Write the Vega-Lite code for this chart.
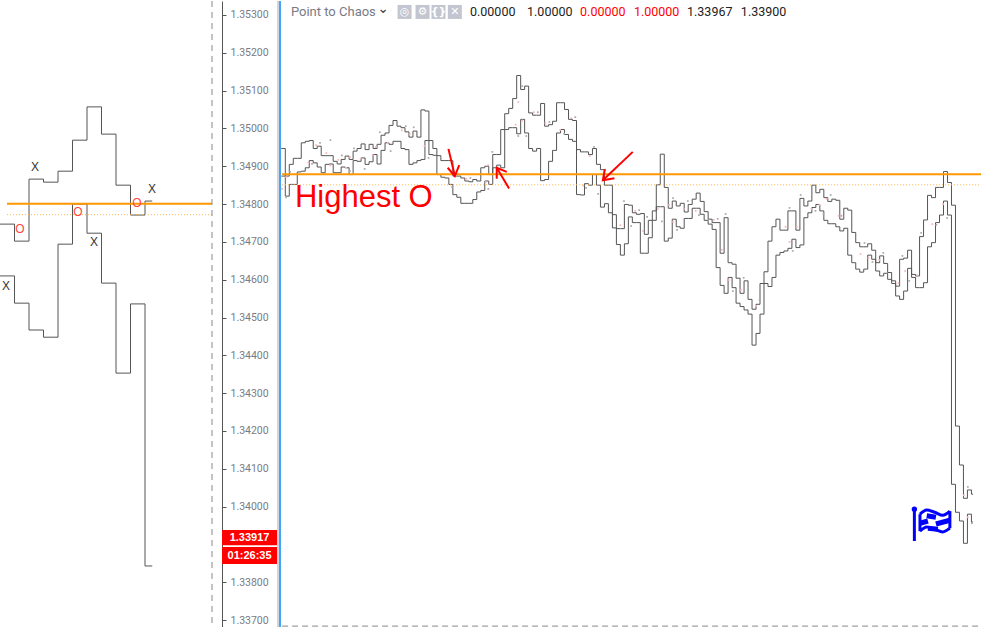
{"$schema":"https://vega.github.io/schema/vega-lite/v6.json","padding":0,"bounds":"flush","spacing":58,"background":"white","config":{"view":{"stroke":null},"axis":{"grid":false,"labelOverlap":false},"concat":{"spacing":58}},
"datasets":{
"left":[{"k":0,"upper":1.34747,"lower":1.3461},{"k":1,"upper":1.34702,"lower":1.34538},{"k":2,"upper":1.34866,"lower":1.34467},{"k":3,"upper":1.34858,"lower":1.34448},{"k":4,"upper":1.34887,"lower":1.34694},{"k":5,"upper":1.34969,"lower":1.348},{"k":6,"upper":1.35057,"lower":1.34723},{"k":7,"upper":1.34985,"lower":1.34591},{"k":8,"upper":1.3485,"lower":1.34353},{"k":9,"upper":1.34771,"lower":1.34536},{"k":10,"upper":1.34808,"lower":1.33843},{"k":10.5,"upper":1.34808,"lower":1.33843}],
"leftText":[{"k":0.41,"price":1.34583,"label":"X","kind":"x"},{"k":2.41,"price":1.34898,"label":"X","kind":"x"},{"k":6.48,"price":1.347,"label":"X","kind":"x"},{"k":10.48,"price":1.3484,"label":"X","kind":"x"},{"k":1.38,"price":1.34734,"label":"O","kind":"o"},{"k":5.38,"price":1.34779,"label":"O","kind":"o"},{"k":9.45,"price":1.34803,"label":"O","kind":"o"}],
"main":[
{"bar":0,"upper":1.34947,"lower":1.34874},{"bar":1,"upper":1.34874,"lower":1.34821},{"bar":2,"upper":1.34905,"lower":1.34852},{"bar":3,"upper":1.34921,"lower":1.34852},{"bar":4,"upper":1.34921,"lower":1.34885},{"bar":5,"upper":1.34962,"lower":1.34887},{"bar":6,"upper":1.34966,"lower":1.34896},{"bar":7,"upper":1.34968,"lower":1.34915},{"bar":8,"upper":1.34947,"lower":1.34909},{"bar":9,"upper":1.34953,"lower":1.34898},
{"bar":10,"upper":1.34928,"lower":1.34883},{"bar":11,"upper":1.34928,"lower":1.34905},{"bar":12,"upper":1.34928,"lower":1.34906},{"bar":13,"upper":1.34913,"lower":1.34883},{"bar":14,"upper":1.34906,"lower":1.34883},{"bar":15,"upper":1.34918,"lower":1.34898},{"bar":16,"upper":1.34927,"lower":1.34896},{"bar":17,"upper":1.34918,"lower":1.34878},{"bar":18,"upper":1.3494,"lower":1.34915},{"bar":19,"upper":1.34947,"lower":1.34913},
{"bar":20,"upper":1.34959,"lower":1.34922},{"bar":21,"upper":1.34944,"lower":1.34905},{"bar":22,"upper":1.34958,"lower":1.34912},{"bar":23,"upper":1.34947,"lower":1.34931},{"bar":24,"upper":1.34958,"lower":1.34906},{"bar":25,"upper":1.34982,"lower":1.34942},{"bar":26,"upper":1.34988,"lower":1.34962},{"bar":27,"upper":1.35008,"lower":1.34958},{"bar":28,"upper":1.35021,"lower":1.34966},{"bar":29,"upper":1.35006,"lower":1.34966},
{"bar":30,"upper":1.35002,"lower":1.34947},{"bar":31,"upper":1.34991,"lower":1.34944},{"bar":32,"upper":1.34977,"lower":1.34905},{"bar":33,"upper":1.34993,"lower":1.34909},{"bar":34,"upper":1.34977,"lower":1.34915},{"bar":35,"upper":1.35049,"lower":1.34918},{"bar":36,"upper":1.35046,"lower":1.34968},{"bar":37,"upper":1.34968,"lower":1.34931},{"bar":38,"upper":1.34947,"lower":1.34929},{"bar":39,"upper":1.34928,"lower":1.34878},
{"bar":40,"upper":1.34915,"lower":1.34871},{"bar":41,"upper":1.34915,"lower":1.34869},{"bar":42,"upper":1.34915,"lower":1.34852},{"bar":43,"upper":1.34874,"lower":1.34825},{"bar":44,"upper":1.34874,"lower":1.34818},{"bar":45,"upper":1.34869,"lower":1.34802},{"bar":46,"upper":1.34861,"lower":1.34802},{"bar":47,"upper":1.34859,"lower":1.34802},{"bar":48,"upper":1.34865,"lower":1.34812},{"bar":49,"upper":1.34861,"lower":1.34832},
{"bar":50,"upper":1.34896,"lower":1.34836},{"bar":51,"upper":1.349,"lower":1.34861},{"bar":52,"upper":1.34878,"lower":1.34852},{"bar":53,"upper":1.34931,"lower":1.34896},{"bar":54,"upper":1.34931,"lower":1.34903},{"bar":55,"upper":1.34997,"lower":1.34896},{"bar":56,"upper":1.35039,"lower":1.34997},{"bar":57,"upper":1.35053,"lower":1.35002},{"bar":58,"upper":1.35079,"lower":1.35002},{"bar":59,"upper":1.3514,"lower":1.34986},
{"bar":60,"upper":1.35103,"lower":1.35024},{"bar":61,"upper":1.35112,"lower":1.34988},{"bar":62,"upper":1.35041,"lower":1.34947},{"bar":63,"upper":1.35035,"lower":1.3494},{"bar":64,"upper":1.35035,"lower":1.34947},{"bar":65,"upper":1.35066,"lower":1.34862},{"bar":66,"upper":1.35006,"lower":1.34865},{"bar":67,"upper":1.3501,"lower":1.34913},{"bar":68,"upper":1.35019,"lower":1.34942},{"bar":69,"upper":1.35068,"lower":1.34988},
{"bar":70,"upper":1.35068,"lower":1.34997},{"bar":71,"upper":1.3505,"lower":1.34984},{"bar":72,"upper":1.35024,"lower":1.34971},{"bar":73,"upper":1.35021,"lower":1.34966},{"bar":74,"upper":1.34944,"lower":1.34825},{"bar":75,"upper":1.34938,"lower":1.34824},{"bar":76,"upper":1.34938,"lower":1.34854},{"bar":77,"upper":1.34931,"lower":1.3485},{"bar":78,"upper":1.34947,"lower":1.34878},{"bar":79,"upper":1.34905,"lower":1.3485},
{"bar":80,"upper":1.34891,"lower":1.34792},{"bar":81,"upper":1.3485,"lower":1.34801},{"bar":82,"upper":1.3485,"lower":1.34777},{"bar":83,"upper":1.34772,"lower":1.34737},{"bar":84,"upper":1.34735,"lower":1.34693},{"bar":85,"upper":1.34735,"lower":1.34665},{"bar":86,"upper":1.34799,"lower":1.34695},
{"bar":87,"upper":1.34797,"lower":1.34766},{"bar":88,"upper":1.34777,"lower":1.34751},{"bar":89,"upper":1.34773,"lower":1.34751},{"bar":90,"upper":1.34775,"lower":1.3467},{"bar":91,"upper":1.3472,"lower":1.3467},{"bar":92,"upper":1.34757,"lower":1.34711},{"bar":93,"upper":1.34782,"lower":1.34757},{"bar":94,"upper":1.34851,"lower":1.34793},{"bar":95,"upper":1.34932,"lower":1.34793},{"bar":96,"upper":1.34844,"lower":1.34702},
{"bar":97,"upper":1.34789,"lower":1.3471},{"bar":98,"upper":1.34808,"lower":1.3476},{"bar":99,"upper":1.34795,"lower":1.3474},{"bar":100,"upper":1.34802,"lower":1.34736},{"bar":101,"upper":1.34779,"lower":1.34762},{"bar":102,"upper":1.34799,"lower":1.34762},{"bar":103,"upper":1.34813,"lower":1.34789},{"bar":104,"upper":1.34829,"lower":1.34789},{"bar":105,"upper":1.34807,"lower":1.34773},{"bar":106,"upper":1.3478,"lower":1.34757},
{"bar":107,"upper":1.3476,"lower":1.34747},{"bar":108,"upper":1.34751,"lower":1.34733},{"bar":109,"upper":1.34751,"lower":1.34632},{"bar":110,"upper":1.3467,"lower":1.34585},{"bar":111,"upper":1.34764,"lower":1.34564},{"bar":112,"upper":1.34645,"lower":1.34606},{"bar":113,"upper":1.34641,"lower":1.34579},{"bar":114,"upper":1.34604,"lower":1.34538},{"bar":115,"upper":1.34564,"lower":1.34529},{"bar":116,"upper":1.34597,"lower":1.3452},
{"bar":117,"upper":1.34548,"lower":1.34509},{"bar":118,"upper":1.34522,"lower":1.34427},{"bar":119,"upper":1.34535,"lower":1.34458},{"bar":120,"upper":1.3459,"lower":1.34509},{"bar":121,"upper":1.34621,"lower":1.3459},{"bar":122,"upper":1.34702,"lower":1.34582},{"bar":123,"upper":1.3474,"lower":1.34606},{"bar":124,"upper":1.3476,"lower":1.34665},{"bar":125,"upper":1.34731,"lower":1.34672},{"bar":126,"upper":1.34731,"lower":1.34676},
{"bar":127,"upper":1.34782,"lower":1.34683},{"bar":128,"upper":1.34782,"lower":1.34707},{"bar":129,"upper":1.34731,"lower":1.34685},{"bar":130,"upper":1.34815,"lower":1.34692},{"bar":131,"upper":1.34795,"lower":1.34764},{"bar":132,"upper":1.34808,"lower":1.34777},{"bar":133,"upper":1.3485,"lower":1.34791},{"bar":134,"upper":1.3483,"lower":1.34799},{"bar":135,"upper":1.34839,"lower":1.34782},{"bar":136,"upper":1.34817,"lower":1.34757},
{"bar":137,"upper":1.34807,"lower":1.34748},{"bar":138,"upper":1.34813,"lower":1.34748},{"bar":139,"upper":1.3481,"lower":1.3474},{"bar":140,"upper":1.3476,"lower":1.34729},{"bar":141,"upper":1.34789,"lower":1.34736},{"bar":142,"upper":1.34784,"lower":1.34665},{"bar":143,"upper":1.34725,"lower":1.34645},{"bar":144,"upper":1.34698,"lower":1.34628},{"bar":145,"upper":1.34687,"lower":1.3462},{"bar":146,"upper":1.34687,"lower":1.34628},
{"bar":147,"upper":1.34695,"lower":1.34665},{"bar":148,"upper":1.34678,"lower":1.34654},{"bar":149,"upper":1.34645,"lower":1.34623},{"bar":150,"upper":1.34663,"lower":1.3461},{"bar":151,"upper":1.34643,"lower":1.34617},{"bar":152,"upper":1.34619,"lower":1.34601},{"bar":153,"upper":1.34597,"lower":1.3459},{"bar":154,"upper":1.34583,"lower":1.34557},{"bar":155,"upper":1.34654,"lower":1.34548},{"bar":156,"upper":1.34657,"lower":1.3457},
{"bar":157,"upper":1.34678,"lower":1.3463},{"bar":158,"upper":1.34614,"lower":1.34606},{"bar":159,"upper":1.3461,"lower":1.34579},{"bar":160,"upper":1.34714,"lower":1.34579},{"bar":161,"upper":1.34758,"lower":1.34592},{"bar":162,"upper":1.34823,"lower":1.34687},{"bar":163,"upper":1.34817,"lower":1.34698},{"bar":164,"upper":1.34844,"lower":1.34751},{"bar":165,"upper":1.34844,"lower":1.34771},{"bar":166,"upper":1.34886,"lower":1.34808},
{"bar":167,"upper":1.34857,"lower":1.34771},{"bar":168,"upper":1.34797,"lower":1.34059},{"bar":169,"upper":1.34213,"lower":1.33985},{"bar":170,"upper":1.3411,"lower":1.33962},{"bar":171,"upper":1.34022,"lower":1.33903},{"bar":172,"upper":1.34044,"lower":1.3398},{"bar":173,"upper":1.34033,"lower":1.33959},{"bar":173.4,"upper":1.34033,"lower":1.33959}],
"dots":[
{"bar":1.2,"price":1.34818,"kind":"gray"},{"bar":2.2,"price":1.34885,"kind":"gray"},{"bar":7.7,"price":1.34906,"kind":"gray"},{"bar":9.7,"price":1.34962,"kind":"gray"},{"bar":12.3,"price":1.34969,"kind":"gray"},{"bar":15.2,"price":1.34929,"kind":"gray"},{"bar":17.2,"price":1.34887,"kind":"gray"},{"bar":18.2,"price":1.34947,"kind":"gray"},{"bar":20.9,"price":1.34893,"kind":"gray"},{"bar":24.7,"price":1.3499,"kind":"gray"},{"bar":27.4,"price":1.3494,"kind":"gray"},{"bar":31.2,"price":1.35006,"kind":"gray"},{"bar":33.2,"price":1.35003,"kind":"gray"},{"bar":36.9,"price":1.34922,"kind":"gray"},{"bar":42.8,"price":1.34845,"kind":"gray"},{"bar":47.4,"price":1.34869,"kind":"gray"},{"bar":51.9,"price":1.3484,"kind":"gray"},{"bar":52.9,"price":1.34938,"kind":"gray"},{"bar":60.4,"price":1.35112,"kind":"gray"},{"bar":59.4,"price":1.3498,"kind":"gray"},{"bar":61.4,"price":1.3498,"kind":"gray"},{"bar":64.3,"price":1.35043,"kind":"gray"},{"bar":67.2,"price":1.35017,"kind":"gray"},{"bar":70.9,"price":1.34986,"kind":"gray"},{"bar":73.7,"price":1.3503,"kind":"gray"},{"bar":76.4,"price":1.34843,"kind":"gray"},{"bar":78.4,"price":1.34951,"kind":"gray"},{"bar":79.4,"price":1.34827,"kind":"gray"},{"bar":81.2,"price":1.34891,"kind":"gray"},{"bar":85.9,"price":1.34808,"kind":"gray"},
{"bar":87.7,"price":1.34742,"kind":"gray"},{"bar":89.7,"price":1.34784,"kind":"gray"},{"bar":91.7,"price":1.34766,"kind":"gray"},{"bar":95.4,"price":1.34754,"kind":"gray"},{"bar":98.2,"price":1.34816,"kind":"gray"},{"bar":99.2,"price":1.34732,"kind":"gray"},{"bar":101.9,"price":1.34808,"kind":"gray"},{"bar":104.7,"price":1.34771,"kind":"gray"},{"bar":109.4,"price":1.34761,"kind":"gray"},{"bar":111.4,"price":1.34774,"kind":"gray"},{"bar":113.2,"price":1.3457,"kind":"gray"},{"bar":115.9,"price":1.34605,"kind":"gray"},{"bar":119.9,"price":1.34546,"kind":"gray"},{"bar":127.4,"price":1.3479,"kind":"gray"},{"bar":128.2,"price":1.34676,"kind":"gray"},{"bar":130.2,"price":1.34824,"kind":"gray"},{"bar":133.9,"price":1.34782,"kind":"gray"},{"bar":135.9,"price":1.34774,"kind":"gray"},{"bar":137.7,"price":1.34824,"kind":"gray"},{"bar":140.4,"price":1.34769,"kind":"gray"},{"bar":146.2,"price":1.34697,"kind":"gray"},{"bar":148.2,"price":1.34647,"kind":"gray"},{"bar":150.9,"price":1.34671,"kind":"gray"},{"bar":155.7,"price":1.34663,"kind":"gray"},{"bar":157.4,"price":1.34597,"kind":"gray"},{"bar":160.4,"price":1.34724,"kind":"gray"},{"bar":164.2,"price":1.34745,"kind":"gray"},{"bar":166.9,"price":1.34763,"kind":"gray"},{"bar":172.1,"price":1.34052,"kind":"gray"},{"bar":173.1,"price":1.33956,"kind":"gray"},
{"bar":0.2,"price":1.3484,"kind":"pink"},{"bar":1.2,"price":1.34871,"kind":"pink"},{"bar":6.8,"price":1.34909,"kind":"pink"},{"bar":8.7,"price":1.34956,"kind":"pink"},{"bar":11.3,"price":1.34935,"kind":"pink"},{"bar":12.3,"price":1.34902,"kind":"pink"},{"bar":14.3,"price":1.34917,"kind":"pink"},{"bar":16.2,"price":1.34896,"kind":"pink"},{"bar":17.2,"price":1.34924,"kind":"pink"},{"bar":19.9,"price":1.3492,"kind":"pink"},{"bar":22.9,"price":1.3493,"kind":"pink"},{"bar":23.7,"price":1.34951,"kind":"pink"},{"bar":26.7,"price":1.34962,"kind":"pink"},{"bar":30.2,"price":1.34995,"kind":"pink"},{"bar":32.2,"price":1.34985,"kind":"pink"},{"bar":35.9,"price":1.34954,"kind":"pink"},{"bar":46.4,"price":1.34867,"kind":"pink"},{"bar":51.2,"price":1.34858,"kind":"pink"},{"bar":51.9,"price":1.34903,"kind":"pink"},{"bar":59.4,"price":1.3507,"kind":"pink"},{"bar":58.7,"price":1.3501,"kind":"pink"},{"bar":60.4,"price":1.35021,"kind":"pink"},{"bar":63.3,"price":1.35043,"kind":"pink"},{"bar":66.2,"price":1.35014,"kind":"pink"},{"bar":69.9,"price":1.34996,"kind":"pink"},{"bar":72.7,"price":1.35027,"kind":"pink"},{"bar":75.7,"price":1.34849,"kind":"pink"},{"bar":77.3,"price":1.34927,"kind":"pink"},{"bar":85,"price":1.34744,"kind":"pink"},
{"bar":88.7,"price":1.34782,"kind":"pink"},{"bar":90.7,"price":1.34729,"kind":"pink"},{"bar":94.4,"price":1.34787,"kind":"pink"},{"bar":97.2,"price":1.34798,"kind":"pink"},{"bar":98.2,"price":1.34753,"kind":"pink"},{"bar":100.9,"price":1.34787,"kind":"pink"},{"bar":103.9,"price":1.34782,"kind":"pink"},{"bar":108.4,"price":1.34758,"kind":"pink"},{"bar":110.4,"price":1.34679,"kind":"pink"},{"bar":112.2,"price":1.34599,"kind":"pink"},{"bar":115.2,"price":1.34573,"kind":"pink"},{"bar":119,"price":1.34531,"kind":"pink"},{"bar":126.4,"price":1.3474,"kind":"pink"},{"bar":127.4,"price":1.347,"kind":"pink"},{"bar":129.2,"price":1.3474,"kind":"pink"},{"bar":132.9,"price":1.34787,"kind":"pink"},{"bar":134.9,"price":1.34798,"kind":"pink"},{"bar":136.7,"price":1.34814,"kind":"pink"},{"bar":139.7,"price":1.34769,"kind":"pink"},{"bar":145.2,"price":1.34668,"kind":"pink"},{"bar":147.2,"price":1.34658,"kind":"pink"},{"bar":149.9,"price":1.34652,"kind":"pink"},{"bar":154.7,"price":1.34591,"kind":"pink"},{"bar":156.4,"price":1.34623,"kind":"pink"},{"bar":159.4,"price":1.34612,"kind":"pink"},{"bar":163.2,"price":1.34747,"kind":"pink"},{"bar":165.9,"price":1.348,"kind":"pink"},{"bar":171.1,"price":1.3403,"kind":"pink"},{"bar":172.1,"price":1.33972,"kind":"pink"}],
"arrows":[
{"part":"a1s","seq":0,"bar":41.9,"price":1.34946},{"part":"a1s","seq":1,"bar":43.5,"price":1.34874},{"part":"a1h","seq":0,"bar":41.7,"price":1.34896},{"part":"a1h","seq":1,"bar":43.5,"price":1.34874},{"part":"a1h","seq":2,"bar":44.6,"price":1.34903},
{"part":"a2s","seq":0,"bar":57.1,"price":1.34841},{"part":"a2s","seq":1,"bar":54,"price":1.34896},{"part":"a2h","seq":0,"bar":54,"price":1.34867},{"part":"a2h","seq":1,"bar":54,"price":1.34896},{"part":"a2h","seq":2,"bar":56.5,"price":1.34885},
{"part":"a3s","seq":0,"bar":88.1,"price":1.34938},{"part":"a3s","seq":1,"bar":80.6,"price":1.34863},{"part":"a3h","seq":0,"bar":81.1,"price":1.34892},{"part":"a3h","seq":1,"bar":80.6,"price":1.34863},{"part":"a3h","seq":2,"bar":83.5,"price":1.34868}],
"flagThin":[
{"part":"pole","seq":0,"bar":158.7,"price":1.33996},{"part":"pole","seq":1,"bar":158.7,"price":1.33909},
{"part":"top","seq":0,"bar":160.1,"price":1.3398},{"part":"top","seq":1,"bar":161.8,"price":1.33991},{"part":"top","seq":2,"bar":163.8,"price":1.33985},{"part":"top","seq":3,"bar":165.8,"price":1.33977},{"part":"top","seq":4,"bar":167.6,"price":1.33988},
{"part":"bottom","seq":0,"bar":160.1,"price":1.33935},{"part":"bottom","seq":1,"bar":161.8,"price":1.33946},{"part":"bottom","seq":2,"bar":163.8,"price":1.3394},{"part":"bottom","seq":3,"bar":165.8,"price":1.33933},{"part":"bottom","seq":4,"bar":167.6,"price":1.33943},
{"part":"left","seq":0,"bar":160.1,"price":1.3398},{"part":"left","seq":1,"bar":160.1,"price":1.33935},
{"part":"right","seq":0,"bar":167.6,"price":1.33988},{"part":"right","seq":1,"bar":167.6,"price":1.33943}],
"flagThick":[
{"part":"r1","seq":0,"bar":161.8,"price":1.33976},{"part":"r1","seq":1,"bar":164.1,"price":1.33972},
{"part":"r2a","seq":0,"bar":160.1,"price":1.33956},{"part":"r2a","seq":1,"bar":162.1,"price":1.33962},
{"part":"r2b","seq":0,"bar":164.1,"price":1.33954},{"part":"r2b","seq":1,"bar":167.6,"price":1.33964},
{"part":"r3","seq":0,"bar":162.1,"price":1.33943},{"part":"r3","seq":1,"bar":164.6,"price":1.3394}],
"headerText":[{"bar":2.4,"price":1.35308,"label":"Point to Chaos","tone":"gray"},{"bar":47.3,"price":1.35308,"label":"0.00000","tone":"black"},{"bar":61.6,"price":1.35308,"label":"1.00000","tone":"black"},{"bar":74.9,"price":1.35308,"label":"0.00000","tone":"red"},{"bar":88.4,"price":1.35308,"label":"1.00000","tone":"red"},{"bar":101.7,"price":1.35308,"label":"1.33967","tone":"black"},{"bar":115.2,"price":1.35308,"label":"1.33900","tone":"black"}],
"buttons":[{"bar":30.9,"price":1.35308,"glyph":"◎"},{"bar":35.4,"price":1.35308,"glyph":"⚙"},{"bar":39.4,"price":1.35308,"glyph":"{}"},{"bar":43.5,"price":1.35308,"glyph":"✕"}],
"priceBoxes":[{"bar":-14.86,"bar2":-1.08,"price":1.33938,"price2":1.33898,"mid":-7.97,"midPrice":1.33918,"label":"1.33917"},{"bar":-14.86,"bar2":-1.08,"price":1.33893,"price2":1.33848,"mid":-7.97,"midPrice":1.3387,"label":"01:26:35"}]
},
"hconcat":[
{"width":222,"height":627,
"encoding":{"x":{"field":"k","type":"quantitative","scale":{"domain":[0,15.31],"nice":false,"zero":false},"axis":null}},
"layer":[
{"data":{"name":"left"},"mark":{"type":"line","interpolate":"step-after","stroke":"#555555","strokeWidth":1,"clip":true},"encoding":{"y":{"field":"upper","type":"quantitative","scale":{"domain":[1.33679,1.35337],"nice":false,"zero":false},"axis":{"orient":"right","title":null,"values":[1.337,1.338,1.34,1.341,1.342,1.343,1.344,1.345,1.346,1.347,1.348,1.349,1.35,1.351,1.352,1.353],"format":".5f","domainColor":"#555555","tickColor":"#555555","tickSize":4,"labelPadding":4,"labelColor":"#787b86","labelFont":"Roboto","labelFontSize":10.5,"labelOverlap":false,"labelBound":false}}}},
{"data":{"name":"left"},"mark":{"type":"line","interpolate":"step-after","stroke":"#555555","strokeWidth":1,"clip":true},"encoding":{"y":{"field":"lower","type":"quantitative"}}},
{"data":{"values":[{"k":0.48,"k2":14.62,"price":1.34801}]},"mark":{"type":"rule","stroke":"#ff9800","strokeWidth":2},"encoding":{"x2":{"field":"k2"},"y":{"field":"price","type":"quantitative"}}},
{"data":{"values":[{"k":0.48,"k2":14.62,"price":1.34772}]},"mark":{"type":"rule","stroke":"#ffb74d","strokeWidth":1,"strokeDash":[1,2]},"encoding":{"x2":{"field":"k2"},"y":{"field":"price","type":"quantitative"}}},
{"data":{"values":[{"k":14.62}]},"mark":{"type":"rule","stroke":"#888888","strokeWidth":1,"strokeDash":[6,5]}},
{"data":{"name":"leftText"},"transform":[{"filter":"datum.kind==='x'"}],"mark":{"type":"text","font":"Liberation Sans","fontSize":12,"fill":"#333333"},"encoding":{"y":{"field":"price","type":"quantitative"},"text":{"field":"label"}}},
{"data":{"name":"leftText"},"transform":[{"filter":"datum.kind==='o'"}],"mark":{"type":"text","font":"Liberation Sans","fontSize":12,"fill":"#ff4444"},"encoding":{"y":{"field":"price","type":"quantitative"},"text":{"field":"label"}}}
]},
{"width":701,"height":627,
"encoding":{"x":{"field":"bar","type":"quantitative","scale":{"domain":[-0.33,175.4],"nice":false,"zero":false},"axis":null}},
"layer":[
{"data":{"name":"main"},"mark":{"type":"line","interpolate":"step-after","stroke":"#555555","strokeWidth":1},"encoding":{"y":{"field":"upper","type":"quantitative","scale":{"domain":[1.33679,1.35337],"nice":false,"zero":false},"axis":null}}},
{"data":{"name":"main"},"mark":{"type":"line","interpolate":"step-after","stroke":"#555555","strokeWidth":1},"encoding":{"y":{"field":"lower","type":"quantitative"}}},
{"data":{"name":"dots"},"transform":[{"filter":"datum.kind==='gray'"}],"mark":{"type":"square","size":3,"fill":"#aaaaaa","opacity":1},"encoding":{"y":{"field":"price","type":"quantitative"}}},
{"data":{"name":"dots"},"transform":[{"filter":"datum.kind==='pink'"}],"mark":{"type":"square","size":3,"fill":"#ffb3b3","opacity":1},"encoding":{"y":{"field":"price","type":"quantitative"}}},
{"data":{"values":[{"bar":0.2,"bar2":175.4,"price":1.34879}]},"mark":{"type":"rule","stroke":"#ff9800","strokeWidth":2},"encoding":{"x2":{"field":"bar2"},"y":{"field":"price","type":"quantitative"}}},
{"data":{"values":[{"bar":0.2,"bar2":175.4,"price":1.34851}]},"mark":{"type":"rule","stroke":"#ffb74d","strokeWidth":1,"strokeDash":[1,2]},"encoding":{"x2":{"field":"bar2"},"y":{"field":"price","type":"quantitative"}}},
{"data":{"values":[{"bar":3.4,"price":1.34816,"label":"Highest O"}]},"mark":{"type":"text","align":"left","baseline":"middle","font":"Liberation Sans","fontSize":31,"fill":"#ff0000"},"encoding":{"y":{"field":"price","type":"quantitative"},"text":{"field":"label"}}},
{"data":{"name":"arrows"},"mark":{"type":"line","stroke":"#ff0000","strokeWidth":2},"encoding":{"y":{"field":"price","type":"quantitative"},"detail":{"field":"part"},"order":{"field":"seq"}}},
{"data":{"name":"flagThin"},"mark":{"type":"line","interpolate":"monotone","stroke":"#0000ff","strokeWidth":3},"encoding":{"y":{"field":"price","type":"quantitative"},"detail":{"field":"part"},"order":{"field":"seq"}}},
{"data":{"name":"flagThick"},"mark":{"type":"line","stroke":"#0000ff","strokeWidth":5},"encoding":{"y":{"field":"price","type":"quantitative"},"detail":{"field":"part"},"order":{"field":"seq"}}},
{"data":{"values":[{"bar":158.7,"price":1.33993}]},"mark":{"type":"circle","size":28,"fill":"#0000ff","opacity":1},"encoding":{"y":{"field":"price","type":"quantitative"}}},
{"data":{"name":"headerText"},"transform":[{"filter":"datum.tone==='gray'"}],"mark":{"type":"text","align":"left","font":"Roboto","fontSize":13,"fill":"#787b86"},"encoding":{"y":{"field":"price","type":"quantitative"},"text":{"field":"label"}}},
{"data":{"name":"headerText"},"transform":[{"filter":"datum.tone==='black'"}],"mark":{"type":"text","align":"left","font":"Roboto","fontSize":12.5,"fill":"#222222"},"encoding":{"y":{"field":"price","type":"quantitative"},"text":{"field":"label"}}},
{"data":{"name":"headerText"},"transform":[{"filter":"datum.tone==='red'"}],"mark":{"type":"text","align":"left","font":"Roboto","fontSize":12.5,"fill":"#ff0000"},"encoding":{"y":{"field":"price","type":"quantitative"},"text":{"field":"label"}}},
{"data":{"values":[{"bar":25.5,"price":1.35308,"label":"⌄"}]},"mark":{"type":"text","font":"DejaVu Sans","fontSize":14,"dy":-3,"fill":"#444444"},"encoding":{"y":{"field":"price","type":"quantitative"},"text":{"field":"label"}}},
{"data":{"name":"buttons"},"mark":{"type":"square","size":196,"fill":"#c3c6d0","opacity":1},"encoding":{"y":{"field":"price","type":"quantitative"}}},
{"data":{"name":"buttons"},"mark":{"type":"text","font":"DejaVu Sans","fontSize":11,"fontWeight":"bold","fill":"#ffffff"},"encoding":{"y":{"field":"price","type":"quantitative"},"text":{"field":"glyph"}}},
{"data":{"values":[{"bar":-0.83}]},"mark":{"type":"rule","stroke":"#d1d4dc","strokeWidth":2}},
{"data":{"values":[{"bar":-0.33}]},"mark":{"type":"rule","stroke":"#42a5f5","strokeWidth":2}},
{"data":{"values":[{"bar":0.2,"bar2":175.4,"price":1.33684}]},"mark":{"type":"rule","stroke":"#888888","strokeWidth":1,"strokeDash":[6,4]},"encoding":{"x2":{"field":"bar2"},"y":{"field":"price","type":"quantitative"}}},
{"data":{"name":"priceBoxes"},"mark":{"type":"rect","fill":"#ff0000"},"encoding":{"x2":{"field":"bar2"},"y":{"field":"price","type":"quantitative"},"y2":{"field":"price2"}}},
{"data":{"name":"priceBoxes"},"mark":{"type":"text","font":"Liberation Sans","fontSize":11,"fontWeight":"bold","fill":"#ffffff"},"encoding":{"x":{"field":"mid","type":"quantitative"},"y":{"field":"midPrice","type":"quantitative"},"text":{"field":"label"}}}
]}
]}
